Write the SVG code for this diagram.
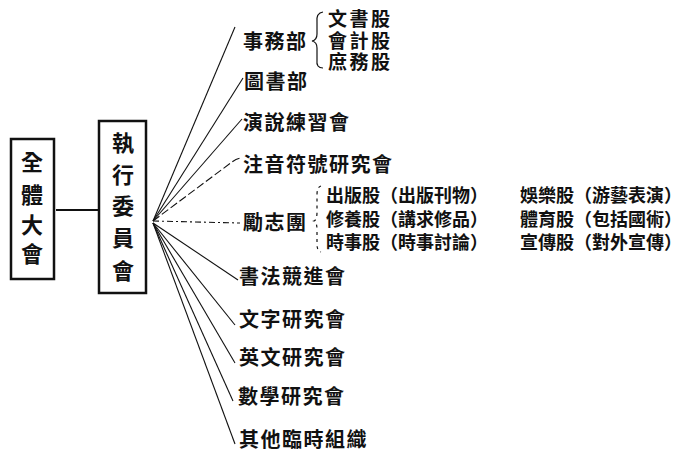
<svg xmlns="http://www.w3.org/2000/svg" width="689" height="455" viewBox="0 0 689 455">
<style>
text{font-family:"Liberation Sans","Noto Sans CJK TC","Noto Sans CJK SC",sans-serif;font-weight:bold;fill:#111;dominant-baseline:central}
.m{font-size:20px;letter-spacing:1.5px}
.s{font-size:19px;letter-spacing:2.5px}
.g{font-size:18px;letter-spacing:0px}
.v{font-size:22px;text-anchor:middle}
.box{fill:none;stroke:#111;stroke-width:2.5}
.ln{fill:none;stroke:#111;stroke-width:1.1}
.dash{stroke-dasharray:8 3}
.dd{stroke-dasharray:6 3 2 3}
.br{fill:none;stroke:#111;stroke-width:1.2}
</style>
<rect width="689" height="455" fill="#fff"/>
<g id="connectors">
<line x1="56" y1="210" x2="98" y2="210" stroke="#111" stroke-width="2.2"/>
<line class="ln" x1="153" y1="221" x2="235" y2="27"/>
<line class="ln" x1="153" y1="221" x2="243" y2="78"/>
<line class="ln" x1="153" y1="221" x2="242" y2="119"/>
<path class="ln dash" d="M153,221 L232,162 Q237,158 242,158"/>
<line class="ln dd" x1="153" y1="221" x2="240" y2="223"/>
<line class="ln" x1="153" y1="223" x2="238" y2="280"/>
<line class="ln" x1="153" y1="223" x2="235" y2="325"/>
<line class="ln" x1="153" y1="223" x2="235" y2="363"/>
<line class="ln" x1="153" y1="223" x2="233" y2="401"/>
<line class="ln" x1="153" y1="223" x2="235" y2="444"/>
</g>
<g id="n-general">
<rect class="box" x="11" y="139" width="43" height="140"/>
<text class="v" x="32" y="162">全</text>
<text class="v" x="32" y="195">體</text>
<text class="v" x="32" y="225">大</text>
<text class="v" x="32" y="254">會</text>
</g>
<g id="n-exec">
<rect class="box" x="99" y="121" width="47" height="172"/>
<text class="v" x="123" y="143">執</text>
<text class="v" x="123" y="175">行</text>
<text class="v" x="123" y="206">委</text>
<text class="v" x="123" y="238">員</text>
<text class="v" x="123" y="271">會</text>
</g>
<g id="n-shiwu">
<text class="m" x="243" y="42">事務部</text>
<path class="br" d="M323,12 Q316,13 317,22 L317,34 Q317,40 312,41 Q317,42 317,48 L317,60 Q316,68 323,68"/>
<text class="s" x="328" y="19.5">文書股</text>
<text class="s" x="328" y="41">會計股</text>
<text class="s" x="328" y="62.5">庶務股</text>
</g>
<g id="n-tushu"><text class="m" x="244" y="82">圖書部</text></g>
<g id="n-yanshuo"><text class="m" x="243" y="123">演說練習會</text></g>
<g id="n-zhuyin"><text class="m" x="243" y="165">注音符號研究會</text></g>
<g id="n-lizhi">
<text class="m" x="243" y="223">勵志團</text>
<path class="br" d="M321,186 Q317,187 317,195 L317,212 Q317,220 314,221 Q317,222 317,230 L317,244 Q317,251 321,252" stroke-dasharray="3 4" stroke="#555"/>
<text class="g" x="326" y="196">出版股（出版刊物）</text>
<text class="g" x="326" y="220">修養股（講求修品）</text>
<text class="g" x="326" y="243">時事股（時事討論）</text>
<text class="g" x="520" y="196">娛樂股（游藝表演）</text>
<text class="g" x="520" y="220">體育股（包括國術）</text>
<text class="g" x="520" y="243">宣傳股（對外宣傳）</text>
</g>
<g id="n-shufa"><text class="m" x="239" y="277">書法競進會</text></g>
<g id="n-wenzi"><text class="m" x="239" y="320">文字研究會</text></g>
<g id="n-yingwen"><text class="m" x="239" y="358">英文研究會</text></g>
<g id="n-shuxue"><text class="m" x="238" y="397">數學研究會</text></g>
<g id="n-qita"><text class="m" x="239" y="440">其他臨時組織</text></g>
</svg>
